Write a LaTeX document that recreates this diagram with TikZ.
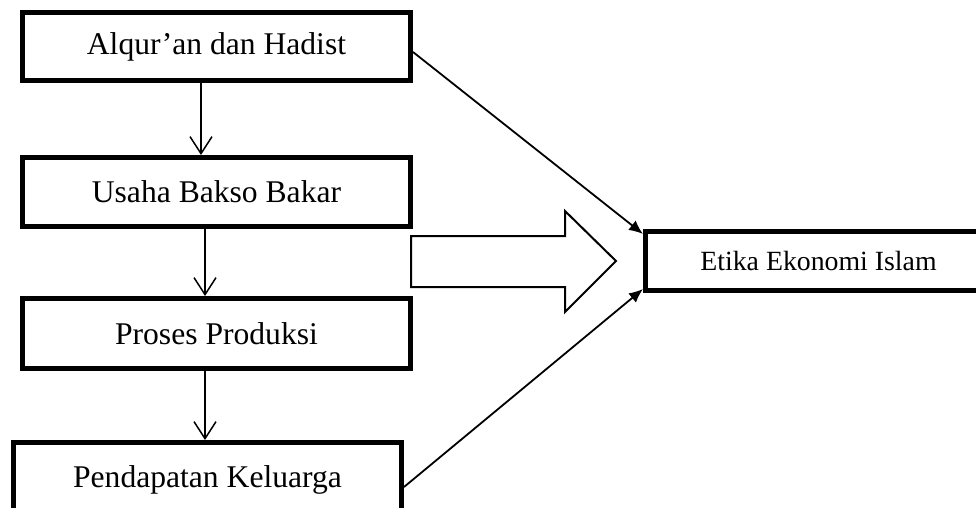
\documentclass[tikz,border=0pt]{standalone}
\usepackage{fontspec}
\setmainfont{Liberation Serif}
\usetikzlibrary{arrows.meta,calc}
\tikzset{
  box/.style={draw, line width=5pt, rectangle, minimum width=388pt, inner sep=0pt, font=\fontsize{31.6}{36}\selectfont},
  varr/.style={line width=1.5pt, -{Straight Barb[length=17pt,width=22pt,line width=1.5pt]}},
  darr/.style={line width=1.8pt, -{Latex[length=14pt,width=12pt]}},
  blockarr/.style={draw, line width=2pt, fill=white}
}
\begin{document}
\begin{tikzpicture}[x=1pt,y=-1pt]
\useasboundingbox (0,0) rectangle (976,508);
\node[box, minimum height=68pt] (a) at (216.5,46.5) {Alqur’an dan Hadist};
\node[box, minimum height=69pt] (b) at (216.5,192) {Usaha Bakso Bakar};
\node[box, minimum height=70pt] (c) at (216.5,333.5) {Proses Produksi};
\node[box, minimum height=75pt] (d) at (207.5,480) {Pendapatan Keluarga};
\node[box, minimum width=346pt, minimum height=59pt, font=\fontsize{27.8}{32}\selectfont] (e) at (818.5,261) {Etika Ekonomi Islam};
\coordinate (x1) at (201,0);
\coordinate (x2) at (205,0);
\draw[varr] (a.south -| x1) -- (b.north -| x1);
\draw[varr] (b.south -| x2) -- (c.north -| x2);
\draw[varr] (c.south -| x2) -- (d.north -| x2);
\draw[darr] ($(a.east)+(0,5.5)$) -- ($(e.north west)+(0,5)$);
\draw[darr] ($(d.east)+(0,7)$) -- ($(e.south west)+(0,-4)$);
\draw[blockarr] (411,236) -- (565,236) -- (565,211) -- (616,261) -- (565,312) -- (565,287) -- (411,287) -- cycle;
\end{tikzpicture}
\end{document}
